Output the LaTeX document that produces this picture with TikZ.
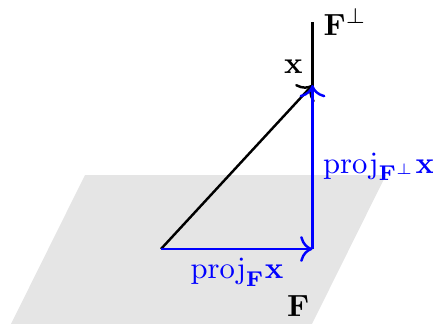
\documentclass[tikz,border=0pt]{standalone}
\usetikzlibrary{arrows.meta}
\begin{document}
\begin{tikzpicture}
% Orthogonal projection of x onto the plane F
\def\pxsz{0.3267pt}
\providecommand{\projPlaneColor}{black!10}
\providecommand{\projVecColor}{blue}
\begin{scope}[x=\pxsz, y=\pxsz, thick, >={To[scale=1.2]}]
  \useasboundingbox (0,0) rectangle (433,324);
  % Plane F as a filled parallelogram
  \fill[\projPlaneColor] (11,0) -- (312,0) -- (386,149) -- (85,149) -- cycle;
  % Points
  \coordinate (O) at (161,75);
  \coordinate (P) at (312.5,75);
  \coordinate (X) at (312.5,239);
  \coordinate (T) at (312.5,302);
  % Axis of F perp
  \draw (P) -- (T);
  % Vector x
  \draw[->] (O) -- (X);
  % Projections
  \begin{scope}[draw=\projVecColor, ->]
    \draw (O) -- (P);
    \draw (P) -- (X);
  \end{scope}
  % Labels
  \begin{scope}[inner sep=0pt]
    \node[anchor=base west] (lblX) at (283,251) {$\mathbf{x}$};
    \node[anchor=base west] (lblPerp) at (322.5,289) {$\mathbf{F}^\perp$};
    \node[anchor=base west] (lblF) at (286,7) {$\mathbf{F}$};
    \node[anchor=base, text=\projVecColor] (lblProjF) at (237,45) {$\mathrm{proj}_{\mathbf{F}}\mathbf{x}$};
    \node[anchor=base west, text=\projVecColor] (lblProjPerp) at (322,151) {$\mathrm{proj}_{\mathbf{F}^\perp}\mathbf{x}$};
  \end{scope}
\end{scope}
\end{tikzpicture}
\end{document}
